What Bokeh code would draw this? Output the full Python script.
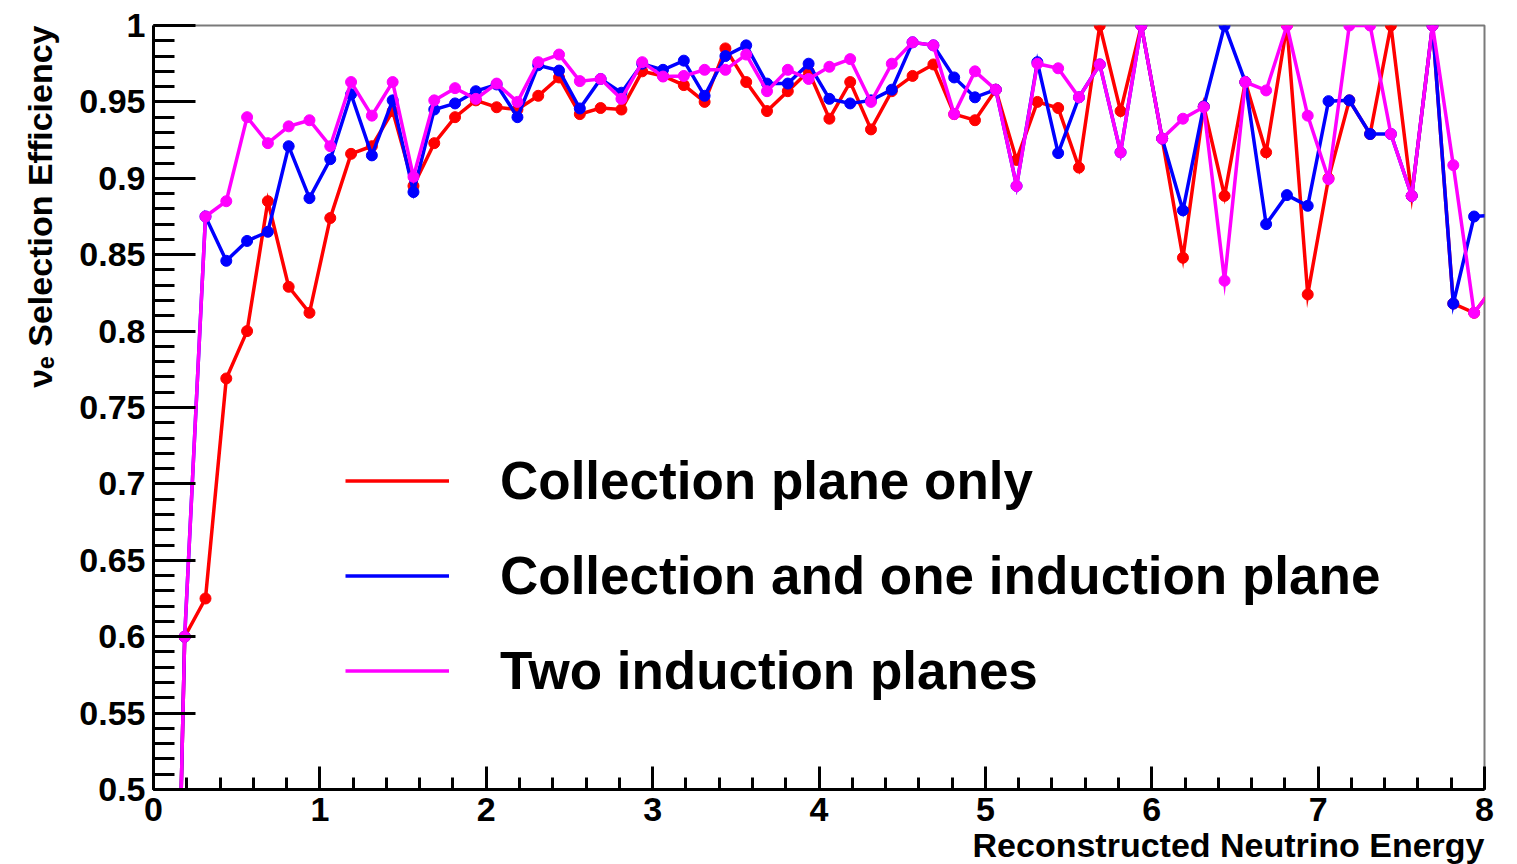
import numpy as np
from bokeh.plotting import figure
from bokeh.models import (FixedTicker, Range1d, Legend, LegendItem, Title,
                          CustomJSTickFormatter)
from bokeh.embed import file_html
from bokeh.resources import INLINE

# ---------------- data (bin centres of reconstructed energy) ----------------
energy = [0.0625, 0.1875, 0.3125, 0.4375, 0.5625, 0.6875, 0.8125, 0.9375,
          1.0625, 1.1875, 1.3125, 1.4375, 1.5625, 1.6875, 1.8125, 1.9375,
          2.0625, 2.1875, 2.3125, 2.4375, 2.5625, 2.6875, 2.8125, 2.9375,
          3.0625, 3.1875, 3.3125, 3.4375, 3.5625, 3.6875, 3.8125, 3.9375,
          4.0625, 4.1875, 4.3125, 4.4375, 4.5625, 4.6875, 4.8125, 4.9375,
          5.0625, 5.1875, 5.3125, 5.4375, 5.5625, 5.6875, 5.8125, 5.9375,
          6.0625, 6.1875, 6.3125, 6.4375, 6.5625, 6.6875, 6.8125, 6.9375,
          7.0625, 7.1875, 7.3125, 7.4375, 7.5625, 7.6875, 7.8125, 7.9375,
          8.0625]

eff_collection_only = [
    0.0, 0.600, 0.625, 0.769, 0.800, 0.885, 0.829, 0.812,
    0.874, 0.916, 0.921, 0.944, 0.895, 0.923, 0.940, 0.951,
    0.9465, 0.945, 0.954, 0.966, 0.942, 0.946, 0.945, 0.970,
    0.967, 0.961, 0.950, 0.985, 0.963, 0.944, 0.957, 0.970,
    0.939, 0.963, 0.932, 0.957, 0.967, 0.9745, 0.942, 0.938,
    0.958, 0.912, 0.950, 0.946, 0.907, 1.0, 0.944, 1.0,
    0.926, 0.848, 0.947, 0.8885, 0.963, 0.917, 1.0, 0.824,
    0.900, 0.951, 0.929, 1.0, 0.8885, 1.0, 0.818, 0.812,
    0.830]

eff_collection_one_induction = [
    0.0, 0.600, 0.875, 0.846, 0.859, 0.865, 0.921, 0.887,
    0.9125, 0.955, 0.915, 0.951, 0.891, 0.945, 0.949, 0.957,
    0.9614, 0.940, 0.974, 0.9705, 0.9457, 0.965, 0.956, 0.975,
    0.971, 0.977, 0.954, 0.980, 0.987, 0.962, 0.962, 0.975,
    0.952, 0.949, 0.951, 0.958, 0.989, 0.987, 0.966, 0.953,
    0.958, 0.895, 0.976, 0.9165, 0.953, 0.9745, 0.917, 1.0,
    0.926, 0.879, 0.947, 1.0, 0.963, 0.870, 0.889, 0.882,
    0.9505, 0.951, 0.929, 0.929, 0.8885, 1.0, 0.818, 0.875,
    0.876]

eff_two_induction = [
    0.0, 0.600, 0.875, 0.885, 0.940, 0.923, 0.934, 0.938,
    0.921, 0.963, 0.941, 0.963, 0.901, 0.951, 0.959, 0.952,
    0.962, 0.950, 0.976, 0.981, 0.9636, 0.965, 0.952, 0.976,
    0.9666, 0.967, 0.971, 0.971, 0.981, 0.957, 0.971, 0.965,
    0.973, 0.978, 0.950, 0.975, 0.989, 0.987, 0.942, 0.970,
    0.958, 0.895, 0.975, 0.972, 0.953, 0.9745, 0.917, 1.0,
    0.926, 0.939, 0.9466, 0.833, 0.963, 0.9575, 1.0, 0.941,
    0.8995, 1.0, 1.0, 0.929, 0.8885, 1.0, 0.9086, 0.812,
    0.830]

series_names = ["Collection plane only",
                "Collection and one induction plane",
                "Two induction planes"]
series_colors = ["#FF0000", "#0000FF", "#FF00FF"]

x_ticks = [0, 1, 2, 3, 4, 5, 6, 7, 8]
x_minor_ticks = [round(0.2 * i, 1) for i in range(41)]
y_ticks = [0.5, 0.55, 0.6, 0.65, 0.7, 0.75, 0.8, 0.85, 0.9, 0.95, 1.0]
y_minor_ticks = [round(0.5 + 0.01 * i, 2) for i in range(51)]

x_title = "Reconstructed Neutrino Energy"
y_title = "\u03bd\u2091 Selection Efficiency"

FONT = "Liberation Sans"

# ---------------- figure ----------------
p = figure(width=1517, height=864,
           x_range=Range1d(0, 8), y_range=Range1d(0.5, 1.0),
           output_backend="svg", toolbar_location=None,
           min_border_left=151, min_border_right=33,
           min_border_top=25, min_border_bottom=75,
           background_fill_color="white", border_fill_color="white")

p.xgrid.visible = False
p.ygrid.visible = False
p.outline_line_color = "#7a7a7a"
p.outline_line_width = 2

fmt = CustomJSTickFormatter(code="return String(Math.round(tick*100)/100);")

xax = p.xaxis[0]
yax = p.yaxis[0]
for ax in (xax, yax):
    ax.axis_line_width = 3
    ax.axis_line_color = "black"
    ax.major_tick_line_width = 3
    ax.minor_tick_line_width = 3
    ax.major_tick_line_color = "black"
    ax.minor_tick_line_color = "black"
    ax.major_tick_out = 0
    ax.minor_tick_out = 0
    ax.major_label_text_font = FONT
    ax.major_label_text_font_style = "bold"
    ax.major_label_text_font_size = "34px"
    ax.major_label_text_color = "black"
    ax.formatter = fmt
    ax.major_label_standoff = 8

xax.ticker = FixedTicker(ticks=x_ticks, minor_ticks=x_minor_ticks)
yax.ticker = FixedTicker(ticks=y_ticks, minor_ticks=y_minor_ticks)
xax.major_tick_in = 23
xax.minor_tick_in = 12
yax.major_tick_in = 42
yax.minor_tick_in = 21

# axis titles as side-panel titles (ROOT style: aligned to the axis end)
p.add_layout(Title(text=x_title, align="right", standoff=0, offset=0,
                   text_font=FONT, text_font_style="bold", text_font_size="34px",
                   text_color="black"), "below")
p.add_layout(Title(text=y_title, align="right", standoff=36, offset=0,
                   text_font=FONT, text_font_style="bold", text_font_size="34px",
                   text_color="black"), "left")

# ---------------- series ----------------
line_renderers = []
for vals, col in zip([eff_collection_only, eff_collection_one_induction, eff_two_induction],
                     series_colors):
    lr = p.line(energy, vals, line_color=col, line_width=3.5, line_join="miter")
    p.scatter(energy, vals, marker="circle", size=11, fill_color=col, line_color=col)
    line_renderers.append(lr)

legend = Legend(items=[LegendItem(label=n, renderers=[r]) for n, r in zip(series_names, line_renderers)],
                location=(192, 71), orientation="vertical",
                glyph_width=104, glyph_height=95, label_height=95,
                label_standoff=51, spacing=0, padding=0, margin=0,
                border_line_color=None, background_fill_alpha=0,
                label_text_font=FONT, label_text_font_style="bold",
                label_text_font_size="53px", label_text_color="black")
p.add_layout(legend)

open("out.html", "w").write(file_html(p, INLINE))
